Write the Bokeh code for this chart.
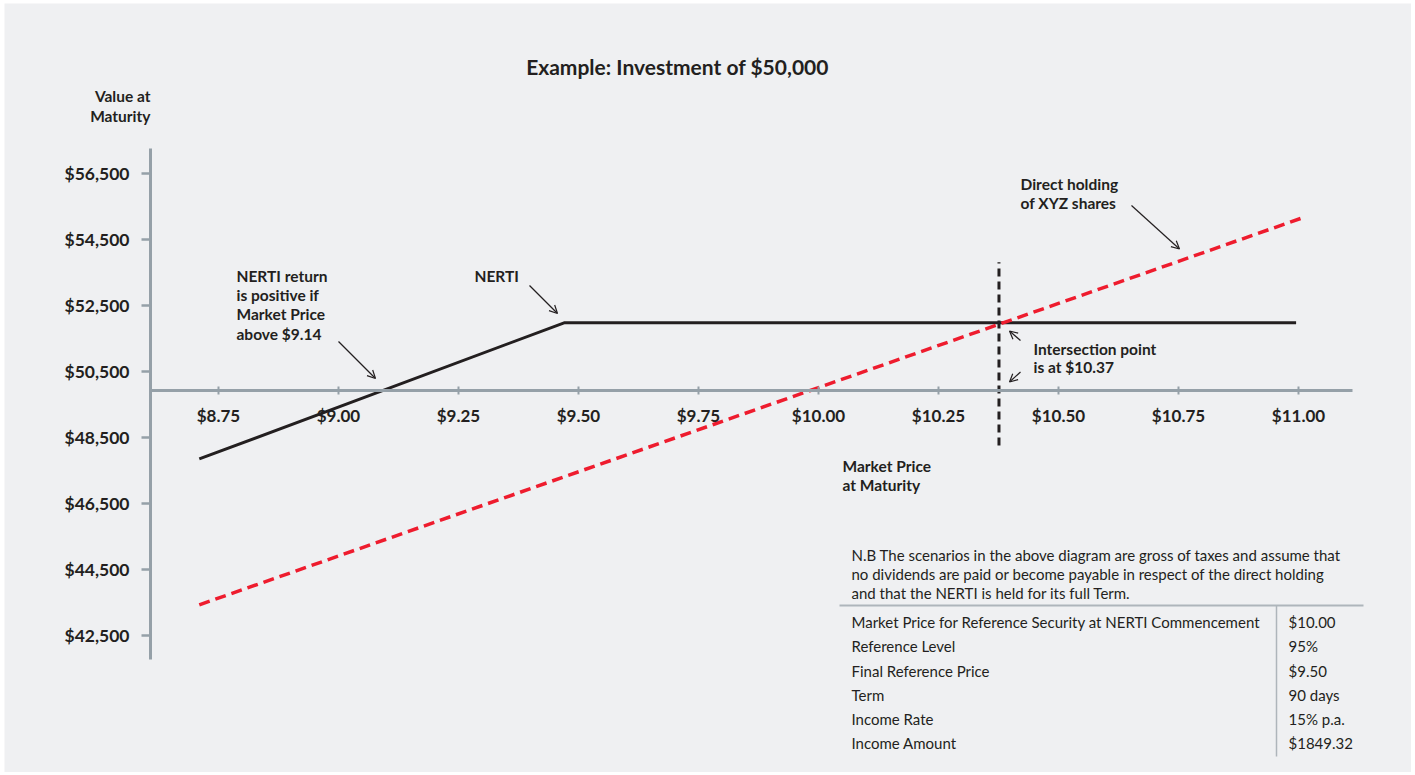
from bokeh.plotting import figure
from bokeh.models import LinearAxis, FixedTicker, NumeralTickFormatter, Arrow, OpenHead, Range1d
from bokeh.core.properties import value
from bokeh.embed import file_html
from bokeh.resources import INLINE

# ---------------- data ----------------
nerti_price = [8.71, 9.47, 10.995]
nerti_value = [47850, 51975, 51975]

direct_price = [8.71, 11.005]
direct_value = [43430, 55140]

intersection_price = [10.376]
intersection_low = [48260]
intersection_high = [53810]

x_ticks = [8.75, 9.00, 9.25, 9.50, 9.75, 10.00, 10.25, 10.50, 10.75, 11.00]
y_ticks = [42500, 44500, 46500, 48500, 50500, 52500, 54500, 56500]
axis_cross_value = 49925

title_text = "Example: Investment of $50,000"
note_lines = [
    "N.B The scenarios in the above diagram are gross of taxes and assume that",
    "no dividends are paid or become payable in respect of the direct holding",
    "and that the NERTI is held for its full Term.",
]
table_labels = [
    "Market Price for Reference Security at NERTI Commencement",
    "Reference Level",
    "Final Reference Price",
    "Term",
    "Income Rate",
    "Income Amount",
]
table_values = ["$10.00", "95%", "$9.50", "90 days", "15% p.a.", "$1849.32"]

# ---------------- layout helpers (page pixels -> data) ----------------
W, H = 1411, 772          # canvas size
FL, FT = 4, 3             # white border left / top
PX_PER_DOLLAR = 480.0
PX_PER_VALUE = 0.033


def X(px):
    return 10 + (px - 818) / PX_PER_DOLLAR


def Y(py):
    return 50500 + (371 - py) / PX_PER_VALUE


BG = "#eff0f2"
INK = "#231f20"
GREY = "#95a0a8"
RULE = "#aeb5bb"
RED = "#ee1c2e"
FONT = value("Lato")

p = figure(width=W, height=H,
           x_range=Range1d(X(FL), X(W)), y_range=Range1d(Y(H), Y(FT)),
           x_axis_type=None, y_axis_type=None,
           toolbar_location=None, output_backend="svg",
           min_border_left=FL, min_border_top=FT, min_border_right=0, min_border_bottom=0,
           background_fill_color=BG, border_fill_color="white",
           outline_line_color=None)

# ---------------- axes ----------------
xaxis = LinearAxis(ticker=FixedTicker(ticks=x_ticks),
                   formatter=NumeralTickFormatter(format="$0.00"),
                   fixed_location=axis_cross_value,
                   bounds=(X(150), X(1352)))
xaxis.axis_line_color = GREY
xaxis.axis_line_width = 3
xaxis.major_tick_line_color = GREY
xaxis.major_tick_line_width = 2
xaxis.major_tick_in = 4
xaxis.major_tick_out = 4
xaxis.minor_tick_line_color = None
xaxis.major_label_standoff = 11
xaxis.major_label_text_font = "Lato"
xaxis.major_label_text_font_style = "bold"
xaxis.major_label_text_font_size = "17px"
xaxis.major_label_text_color = INK
p.add_layout(xaxis, "below")

yaxis = LinearAxis(ticker=FixedTicker(ticks=y_ticks),
                   formatter=NumeralTickFormatter(format="$0,0"),
                   fixed_location=X(150),
                   bounds=(Y(659), Y(148)))
yaxis.axis_line_color = GREY
yaxis.axis_line_width = 3
yaxis.major_tick_line_color = GREY
yaxis.major_tick_line_width = 2.5
yaxis.major_tick_in = 0
yaxis.major_tick_out = 9
yaxis.minor_tick_line_color = None
yaxis.major_label_standoff = 12
yaxis.major_label_text_font = "Lato"
yaxis.major_label_text_font_style = "bold"
yaxis.major_label_text_font_size = "17.5px"
yaxis.major_label_text_color = INK
p.add_layout(yaxis, "left")

# ---------------- series ----------------
p.line(nerti_price, nerti_value, line_color=INK, line_width=3)
p.line(direct_price, direct_value, line_color=RED, line_width=3.5, line_dash="11 6")
p.segment(x0=intersection_price, y0=intersection_low,
          x1=intersection_price, y1=intersection_high,
          line_color=INK, line_width=3, line_dash="8 5")


# ---------------- texts ----------------
def block(lines, left, top, step, size="15.5px", style="bold", align="left", color=INK):
    xs = [X(left)] * len(lines)
    ys = [Y(top + i * step) for i in range(len(lines))]
    p.text(x=xs, y=ys, text=lines, text_font=FONT, text_font_style=style,
           text_font_size=size, text_color=color, text_baseline="middle",
           text_align=align)


block([title_text], 677, 66, 0, size="21px", align="center")
block(["Value at", "Maturity"], 150, 95, 20, align="right")
block(["NERTI return", "is positive if", "Market Price", "above $9.14"], 236, 275, 19.4)
block(["NERTI"], 474, 275, 0)
block(["Direct holding", "of XYZ shares"], 1020, 183.3, 19.4)
block(["Intersection point", "is at $10.37"], 1033, 348.3, 18.6)
block(["Market Price", "at Maturity"], 842, 465, 19.4)
block(note_lines, 851, 554, 19.2, size="15px", style="normal")
block(table_labels, 851, 621.7, 24.2, size="15px", style="normal")
block(table_values, 1288, 621.7, 24.2, size="15px", style="normal")

# table rules
p.segment(x0=[X(839)], y0=[Y(605)], x1=[X(1363)], y1=[Y(605)], line_color=RULE, line_width=2)
p.segment(x0=[X(1276)], y0=[Y(605)], x1=[X(1276)], y1=[Y(756)], line_color=RULE, line_width=1.5)

# ---------------- pointer arrows ----------------
arrows = [
    ((338, 341), (375, 378)),
    ((529, 285), (557, 313)),
    ((1131, 205), (1179, 248.5)),
    ((1020, 340), (1009, 330.5)),
    ((1020, 371.5), (1009, 381.5)),
]
for (sx, sy), (ex, ey) in arrows:
    p.add_layout(Arrow(x_start=X(sx), y_start=Y(sy), x_end=X(ex), y_end=Y(ey),
                       line_color=INK, line_width=1.2,
                       end=OpenHead(size=8, line_color=INK, line_width=1.2)))

open("out.html", "w").write(file_html(p, INLINE))
